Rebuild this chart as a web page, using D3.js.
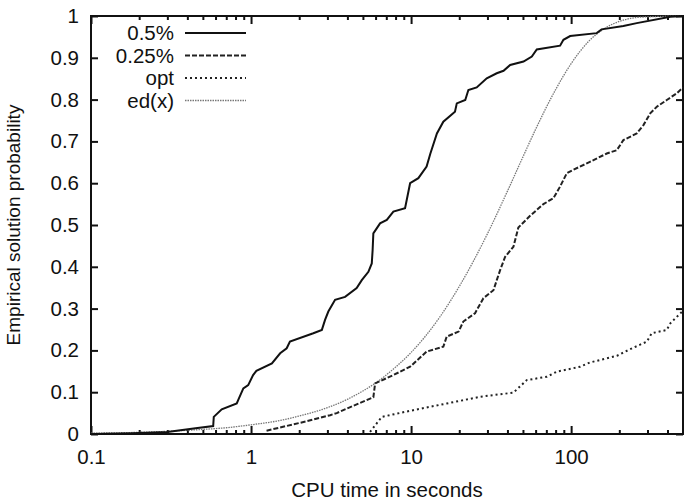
<!DOCTYPE html>
<html>
<head>
<meta charset="utf-8">
<script src="https://cdn.jsdelivr.net/npm/d3@7"></script>
<style>
  body { margin: 0; background: #fff; }
  svg text { font-family: "Liberation Sans", Arial, Helvetica, sans-serif; fill: #111; }
</style>
</head>
<body>
<div id="chart"></div>
<script>
// data: [cpu seconds, probability]
const series05 = [[0.1,0],[0.18,0.002],[0.3,0.005],[0.343,0.008],[0.45,0.014],[0.58,0.019],[0.585,0.041],[0.656,0.059],[0.814,0.073],[0.84,0.085],[0.895,0.109],[0.96,0.117],[1.03,0.141],[1.08,0.151],[1.35,0.169],[1.52,0.193],[1.67,0.205],[1.75,0.221],[2.45,0.241],[2.77,0.249],[2.9,0.273],[3.04,0.293],[3.35,0.321],[3.87,0.328],[4.57,0.349],[4.92,0.368],[5.41,0.388],[5.68,0.408],[5.75,0.44],[5.81,0.48],[6.4,0.504],[7.05,0.512],[7.75,0.532],[9.17,0.54],[9.86,0.6],[11.1,0.612],[12.5,0.64],[13.2,0.671],[14.5,0.719],[15.9,0.747],[18.8,0.771],[19.3,0.791],[21.8,0.799],[22.8,0.823],[25.7,0.829],[29.7,0.851],[34.3,0.863],[37.8,0.869],[41.6,0.883],[50.4,0.891],[56.8,0.903],[61,0.92],[85.3,0.929],[89.5,0.943],[98.6,0.952],[144.5,0.959],[155,0.968],[212,0.976],[257,0.983],[417,0.998],[500,1]];
const series025 = [[1.25,0.008],[2.2,0.03],[3.12,0.045],[3.43,0.05],[3.77,0.057],[5.81,0.088],[5.96,0.121],[7.75,0.141],[9.86,0.161],[12.5,0.197],[15.9,0.209],[16.7,0.233],[19.8,0.245],[21.2,0.269],[25.1,0.289],[28.3,0.325],[32.7,0.344],[34.3,0.368],[36,0.392],[38.7,0.424],[43.6,0.448],[46.8,0.494],[55.4,0.522],[67.1,0.55],[77.5,0.564],[85.3,0.592],[94,0.624],[103,0.632],[131,0.651],[167,0.671],[193,0.679],[212,0.703],[257,0.719],[283,0.739],[312,0.767],[343,0.783],[396,0.799],[457,0.815],[500,0.829]];
const seriesOpt = [[5.54,0.005],[6.56,0.041],[10.3,0.057],[16.7,0.073],[27,0.089],[43.6,0.099],[52.8,0.129],[70.5,0.137],[81.3,0.149],[114,0.161],[131,0.171],[193,0.187],[234,0.203],[297,0.221],[319,0.241],[396,0.249],[417,0.265],[500,0.295]];
const seriesEd = [[0.1,0.002],[0.2,0.004],[0.3,0.0065],[0.5,0.011],[0.7,0.015],[1,0.022],[1.5,0.032],[2,0.043],[3,0.063],[4,0.083],[5,0.103],[6,0.122],[8,0.16],[10,0.195],[15,0.278],[20,0.353],[30,0.479],[40,0.581],[50,0.663],[60,0.729],[80,0.824],[100,0.886],[130,0.941],[160,0.969],[200,0.987],[250,0.996],[300,0.998],[500,1]];
const legendLabels = ["0.5%", "0.25%", "opt", "ed(x)"];
const xTickValues = [0.1, 1, 10, 100];
const yTickValues = [0, 0.1, 0.2, 0.3, 0.4, 0.5, 0.6, 0.7, 0.8, 0.9, 1];

const W = 686, H = 503;
const mLeft = 91, mRight = 683, mTop = 16, mBottom = 434;

const svg = d3.select("#chart").append("svg").attr("width", W).attr("height", H);

const x = d3.scaleLog().domain([0.1, 500]).range([mLeft, mRight]);
const y = d3.scaleLinear().domain([0, 1]).range([mBottom, mTop]);

// minor ticks 2..9 in each decade
let minor = [];
for (let d = 0.1; d < 500; d *= 10) {
  for (let k = 2; k <= 9; k++) {
    let v = +(d * k).toPrecision(3);
    if (v < 500) minor.push(v);
  }
}

const fontSize = "20.5px";

function styleAxis(g){
  g.select(".domain").remove();
  g.selectAll(".tick line").attr("stroke", "#111").attr("stroke-width", 2);
  g.selectAll(".tick text").style("font-size", fontSize).attr("fill", "#111");
}

// bottom / top axes
svg.append("g").attr("transform", "translate(0," + mBottom + ")")
  .call(d3.axisBottom(x).tickValues(xTickValues).tickSize(-8).tickPadding(15).tickFormat(d3.format("")))
  .call(styleAxis);
svg.append("g").attr("transform", "translate(0," + mBottom + ")")
  .call(d3.axisBottom(x).tickValues(minor).tickSize(-4).tickFormat(""))
  .call(styleAxis);
svg.append("g").attr("transform", "translate(0," + mTop + ")")
  .call(d3.axisTop(x).tickValues(xTickValues).tickSize(-8).tickFormat(""))
  .call(styleAxis);
svg.append("g").attr("transform", "translate(0," + mTop + ")")
  .call(d3.axisTop(x).tickValues(minor).tickSize(-4).tickFormat(""))
  .call(styleAxis);

// left / right axes
svg.append("g").attr("transform", "translate(" + mLeft + ",0)")
  .call(d3.axisLeft(y).tickValues(yTickValues).tickSize(-7).tickPadding(12).tickFormat(d3.format("")))
  .call(styleAxis);
svg.append("g").attr("transform", "translate(" + mRight + ",0)")
  .call(d3.axisRight(y).tickValues(yTickValues).tickSize(-7).tickFormat(""))
  .call(styleAxis);

// frame
svg.append("rect")
  .attr("x", mLeft).attr("y", mTop)
  .attr("width", mRight - mLeft).attr("height", mBottom - mTop)
  .attr("fill", "none").attr("stroke", "#111").attr("stroke-width", 2);

// curves
const line = d3.line().x(d => x(d[0])).y(d => y(d[1]));
const smooth = d3.line().x(d => x(d[0])).y(d => y(d[1])).curve(d3.curveMonotoneX);

const styles = [
  {dash: null, width: 2, color: "#111"},
  {dash: "5,2", width: 2, color: "#222"},
  {dash: "2,3", width: 2, color: "#222"},
  {dash: "1.5,1", width: 1.3, color: "#777"}
];

svg.append("path").datum(seriesEd).attr("d", smooth).attr("fill", "none")
  .attr("stroke", styles[3].color).attr("stroke-width", styles[3].width).attr("stroke-dasharray", styles[3].dash);
svg.append("path").datum(seriesOpt).attr("d", line).attr("fill", "none")
  .attr("stroke", styles[2].color).attr("stroke-width", styles[2].width).attr("stroke-dasharray", styles[2].dash);
svg.append("path").datum(series025).attr("d", line).attr("fill", "none")
  .attr("stroke", styles[1].color).attr("stroke-width", styles[1].width).attr("stroke-dasharray", styles[1].dash);
svg.append("path").datum(series05).attr("d", line).attr("fill", "none")
  .attr("stroke", styles[0].color).attr("stroke-width", styles[0].width);

// legend
const legend = svg.append("g");
legendLabels.forEach((lab, i) => {
  const ly = 33 + i * 22.5;
  legend.append("text").attr("x", 174).attr("y", ly).attr("dy", "0.35em")
    .attr("text-anchor", "end").style("font-size", fontSize).text(lab);
  legend.append("line").attr("x1", 185).attr("x2", 246).attr("y1", ly).attr("y2", ly)
    .attr("stroke", styles[i].color).attr("stroke-width", styles[i].width)
    .attr("stroke-dasharray", styles[i].dash);
});

// axis titles
svg.append("text").attr("x", (mLeft + mRight) / 2).attr("y", 497)
  .attr("text-anchor", "middle").style("font-size", fontSize).text("CPU time in seconds");
svg.append("text").attr("transform", "translate(20," + ((mTop + mBottom) / 2) + ") rotate(-90)")
  .attr("text-anchor", "middle").style("font-size", "19px").text("Empirical solution probability");
</script>
</body>
</html>
